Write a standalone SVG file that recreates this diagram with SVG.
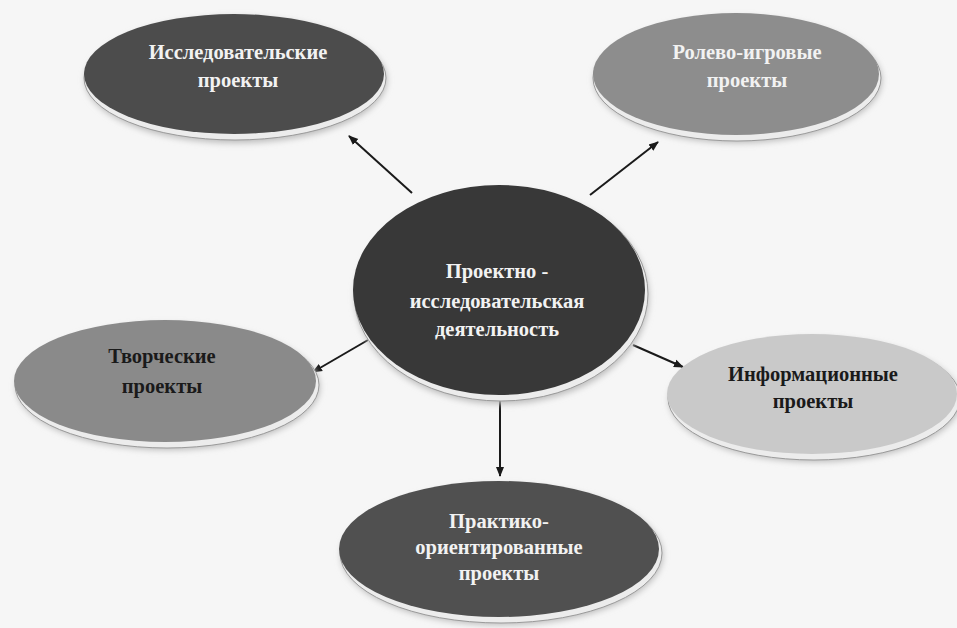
<svg xmlns="http://www.w3.org/2000/svg" width="957" height="628" viewBox="0 0 957 628">
<style>
.t{font-family:"Liberation Serif","Times New Roman",serif;font-weight:bold;font-size:20.5px;text-anchor:middle}
.lt{fill:#f2f2f2}
.dk{fill:#1a1a1a}
.rim{fill:#ececec;stroke:#9a9a9a;stroke-width:1}
.con{stroke:#1a1a1a;stroke-width:2;fill:none;marker-end:url(#ah)}
</style>
<defs>
<marker id="ah" markerWidth="10" markerHeight="10" refX="9" refY="5" orient="auto" markerUnits="userSpaceOnUse"><path d="M0,1 L10,5 L0,9 Z" fill="#1a1a1a"/></marker>
<filter id="sh" x="-10%" y="-10%" width="120%" height="130%"><feGaussianBlur stdDeviation="3"/></filter>
</defs>
<rect width="957" height="628" fill="#f6f6f6"/>
<g id="connectors">
<line class="con" x1="412" y1="193" x2="349" y2="136"/>
<line class="con" x1="590" y1="195" x2="658" y2="142"/>
<line class="con" x1="368" y1="340" x2="313" y2="372"/>
<line class="con" x1="633" y1="345" x2="683" y2="367"/>
<line class="con" x1="500" y1="398" x2="500" y2="476"/>
</g>
<g id="n-center">
<ellipse cx="502" cy="297" rx="147" ry="107" fill="#bbb" filter="url(#sh)"/>
<ellipse class="rim" cx="501" cy="294" rx="147" ry="107"/>
<ellipse cx="499" cy="290" rx="146" ry="105" fill="#383838"/>
<text class="t lt" x="497" y="278">Проектно -</text>
<text class="t lt" x="497" y="308">исследовательская</text>
<text class="t lt" x="497" y="336">деятельность</text>
</g>
<g id="n-research">
<ellipse cx="236" cy="80" rx="151" ry="63" fill="#bbb" filter="url(#sh)"/>
<ellipse class="rim" cx="235" cy="78" rx="151" ry="62"/>
<ellipse cx="234" cy="74" rx="150" ry="60" fill="#4c4c4c"/>
<text class="t lt" x="238" y="59">Исследовательские</text>
<text class="t lt" x="238" y="87">проекты</text>
</g>
<g id="n-role">
<ellipse cx="738" cy="80" rx="144" ry="63" fill="#bbb" filter="url(#sh)"/>
<ellipse class="rim" cx="737" cy="78" rx="144" ry="63"/>
<ellipse cx="736" cy="74" rx="143" ry="61" fill="#8d8d8d"/>
<text class="t lt" x="747" y="59">Ролево-игровые</text>
<text class="t lt" x="747" y="87">проекты</text>
</g>
<g id="n-creative">
<ellipse cx="168" cy="387" rx="152" ry="63" fill="#bbb" filter="url(#sh)"/>
<ellipse class="rim" cx="167" cy="385" rx="152" ry="63"/>
<ellipse cx="165" cy="381" rx="151" ry="61" fill="#8a8a8a"/>
<text class="t dk" x="162" y="363">Творческие</text>
<text class="t dk" x="162" y="393">проекты</text>
</g>
<g id="n-info">
<ellipse cx="815" cy="400" rx="146" ry="62" fill="#bbb" filter="url(#sh)"/>
<ellipse class="rim" cx="814" cy="398" rx="146" ry="62"/>
<ellipse cx="812" cy="394" rx="145" ry="60" fill="#c9c9c9"/>
<text class="t dk" x="813" y="381">Информационные</text>
<text class="t dk" x="813" y="408">проекты</text>
</g>
<g id="n-practice">
<ellipse cx="502" cy="555" rx="161" ry="70" fill="#bbb" filter="url(#sh)"/>
<ellipse class="rim" cx="501" cy="553" rx="161" ry="70"/>
<ellipse cx="499" cy="549" rx="160" ry="68" fill="#505050"/>
<text class="t lt" x="499" y="528">Практико-</text>
<text class="t lt" x="499" y="554">ориентированные</text>
<text class="t lt" x="499" y="580">проекты</text>
</g>
</svg>
